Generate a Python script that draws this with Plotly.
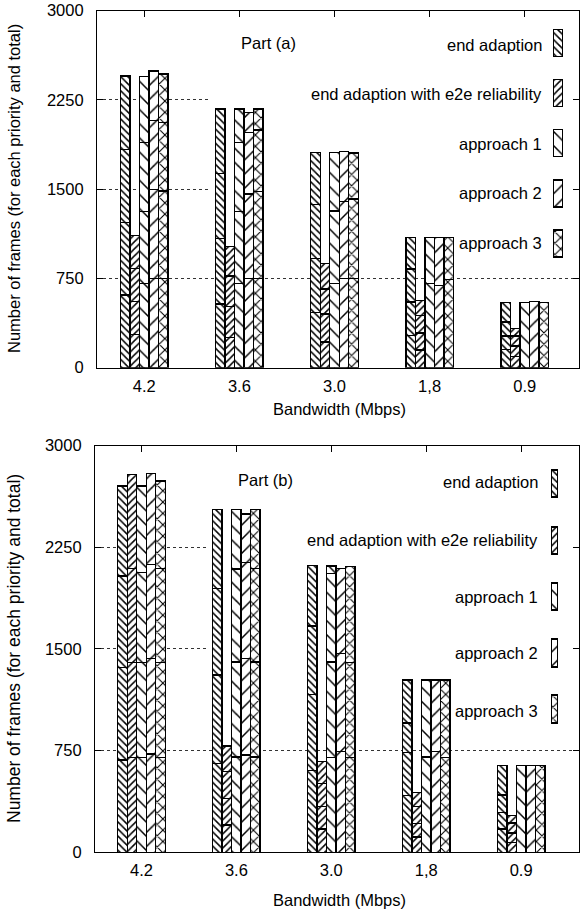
import plotly.graph_objects as go

# ---------------- data ----------------
bandwidths = ["4.2", "3.6", "3.0", "1,8", "0.9"]
methods = ["end adaption", "end adaption with e2e reliability",
           "approach 1", "approach 2", "approach 3"]
y_ticks = [0, 750, 1500, 2250, 3000]

# frames per priority (priority 1..4, stacked bottom -> top), one row per bandwidth
# Part (a)
a_end_adaption = [[610, 611, 613, 616], [535, 551, 546, 540], [462, 457, 453, 437],
                  [270, 282, 278, 265], [152, 114, 118, 165]]
a_e2e = [[280, 274, 281, 277], [255, 257, 258, 246], [216, 234, 210, 214],
         [149, 144, 143, 130], [92, 90, 84, 65]]
a_approach1 = [[709, 604, 576, 558], [709, 604, 576, 283], [709, 607, 491, 0],
               [709, 386, 0, 0], [549, 0, 0, 0]]
a_approach2 = [[750, 748, 576, 417], [750, 708, 518, 168], [750, 645, 420, 0],
               [692, 403, 0, 0], [556, 0, 0, 0]]
a_approach3 = [[750, 734, 576, 406], [750, 728, 518, 176], [750, 667, 387, 0],
               [740, 355, 0, 0], [549, 0, 0, 0]]
# Part (b)
b_end_adaption = [[681, 683, 674, 663], [656, 651, 640, 579], [602, 563, 503, 446],
                  [418, 319, 216, 318], [172, 120, 131, 218]]
b_e2e = [[700, 698, 696, 694], [201, 197, 196, 190], [173, 165, 168, 162],
         [112, 102, 126, 102], [71, 72, 73, 56]]
b_approach1 = [[700, 698, 667, 636], [703, 699, 686, 438], [700, 703, 654, 55],
               [703, 568, 0, 0], [641, 0, 0, 0]]
b_approach2 = [[725, 705, 694, 671], [719, 711, 709, 355], [742, 725, 625, 0],
               [745, 526, 0, 0], [641, 0, 0, 0]]
b_approach3 = [[700, 698, 696, 644], [703, 699, 692, 432], [700, 698, 708, 0],
               [700, 571, 0, 0], [641, 0, 0, 0]]

# ---------------- styles / layout constants ----------------
W, H = 580, 913
FONT = "Liberation Sans, Arial, Helvetica, sans-serif"
FS = 16.5
patterns = [
    dict(shape="\\", size=5, solidity=0.3),
    dict(shape="/", size=5, solidity=0.3),
    dict(shape="\\", size=10, solidity=0.15),
    dict(shape="/", size=10, solidity=0.15),
    dict(shape="x", size=8, solidity=0.25),
]
offsets = [-0.2, -0.1, 0.0, 0.1, 0.2]
BAR_W = 0.1
LW = 1.4

# pixel geometry of the two panels and their x ranges
panels = [
    dict(xa="x", ya="y", left=97, right=579, top=10.5, bottom=367.7, xr=[-0.497, 4.571],
         key_left=210, key_bottom=266,
         series=[a_end_adaption, a_e2e, a_approach1, a_approach2, a_approach3]),
    dict(xa="x2", ya="y2", left=95, right=579, top=445.5, bottom=852.3, xr=[-0.49, 4.61],
         key_left=207, key_bottom=735,
         series=[b_end_adaption, b_e2e, b_approach1, b_approach2, b_approach3]),
]


def px_x(p):
    return p / W


def px_y(p):
    return 1 - p / H


fig = go.Figure()

for pn in panels:
    for m, seg in enumerate(pn["series"]):
        for pr in range(4):
            xs = [k + offsets[m] for k in range(len(bandwidths))]
            ys = [row[pr] if row[pr] > 0 else None for row in seg]
            fig.add_trace(go.Bar(
                x=xs, y=ys, width=BAR_W, xaxis=pn["xa"], yaxis=pn["ya"],
                marker=dict(color="white", line=dict(color="black", width=LW),
                            pattern=dict(fgcolor="black", bgcolor="white", **patterns[m])),
                showlegend=False, hoverinfo="skip"))

# ---------------- legend keys (manual: text left, key right) ----------------
key_cols = [(553.3, 562.3), (551.3, 557.8)]
leg_top_rows = [(29.5, 56.5), (79.5, 106.5), (129.5, 156.5), (180, 207), (230, 257)]
leg_bot_rows = [(470, 497), (527, 554), (583, 610), (639, 667), (695, 723)]
key_y_spans = [(0, 400), (430, H)]  # vertical pixel band of each key column
PADX = 4
for (xa, ya, rows) in [("x3", "y3", leg_top_rows), ("x4", "y4", leg_bot_rows)]:
    for m in range(len(methods)):
        r0, r1 = rows[m]
        fig.add_trace(go.Bar(
            x=[0.5], y=[r1 - r0], base=[r0], width=1, xaxis=xa, yaxis=ya,
            marker=dict(color="white", line=dict(color="black", width=LW),
                        pattern=dict(fgcolor="black", bgcolor="white", **patterns[m])),
            showlegend=False, hoverinfo="skip"))

axis_common = dict(showline=True, linecolor="black", linewidth=1.2, mirror="ticks",
                   ticks="inside", ticklen=6, tickcolor="black", tickwidth=1,
                   automargin=False,
                   tickfont=dict(family=FONT, size=FS, color="black"))

layout_axes = {}
for i, pn in enumerate(panels):
    sx = "" if i == 0 else str(i + 1)
    layout_axes["xaxis" + sx] = dict(
        domain=[px_x(pn["left"]), px_x(pn["right"])], range=pn["xr"], anchor=pn["ya"],
        tickvals=list(range(len(bandwidths))), ticktext=bandwidths, showgrid=False,
        zeroline=False, layer="below traces", ticklabelstandoff=3, **axis_common)
    layout_axes["yaxis" + sx] = dict(
        domain=[px_y(pn["bottom"]), px_y(pn["top"])], range=[0, 3000], anchor=pn["xa"],
        tickvals=y_ticks, showgrid=True, gridcolor="#333333", griddash="dot", gridwidth=1,
        zeroline=False, ticklabelstandoff=9, **axis_common)

hidden = dict(visible=False, automargin=False)
for j, (c0, c1) in enumerate(key_cols):
    pad = PADX / (c1 - c0)
    t0, t1 = key_y_spans[j]
    n = str(j + 3)
    layout_axes["xaxis" + n] = dict(domain=[px_x(c0 - PADX), px_x(c1 + PADX)],
                                    range=[-pad, 1 + pad], anchor="y" + n, **hidden)
    layout_axes["yaxis" + n] = dict(domain=[px_y(t1), px_y(t0)], range=[t1, t0],
                                    anchor="x" + n, **hidden)

fig.update_layout(
    template="none",
    width=W, height=H, margin=dict(l=0, r=0, t=0, b=0, pad=0, autoexpand=False),
    paper_bgcolor="white", plot_bgcolor="rgba(0,0,0,0)", barmode="stack",
    showlegend=False,
    **layout_axes,
)

# opaque key boxes that hide the grid (between grid and bars)
for pn in panels:
    x0, x1 = pn["xr"]
    kx = x0 + (pn["key_left"] - pn["left"]) / (pn["right"] - pn["left"]) * (x1 - x0)
    ky = (pn["bottom"] - pn["key_bottom"]) / (pn["bottom"] - pn["top"]) * 3000
    fig.add_shape(type="rect", xref=pn["xa"], yref=pn["ya"], layer="between",
                  x0=kx, x1=x1, y0=ky, y1=3000,
                  fillcolor="white", line=dict(width=0))

txt = dict(family=FONT, size=FS, color="black")
leg_top_text_y = [45, 94.3, 144, 193.3, 243.3]
leg_bot_text_y = [481.7, 540, 596.7, 653.3, 711]
for m, name in enumerate(methods):
    fig.add_annotation(text=name, xref="paper", yref="paper", x=px_x(543.5), y=px_y(leg_top_text_y[m]),
                       xanchor="right", yanchor="middle", showarrow=False, font=txt)
    fig.add_annotation(text=name, xref="paper", yref="paper", x=px_x(539.5), y=px_y(leg_bot_text_y[m]),
                       xanchor="right", yanchor="middle", showarrow=False, font=txt)

fig.add_annotation(text="Part (a)", xref="paper", yref="paper", x=px_x(239), y=px_y(43),
                   xanchor="left", yanchor="middle", showarrow=False, font=txt)
fig.add_annotation(text="Part (b)", xref="paper", yref="paper", x=px_x(236), y=px_y(480),
                   xanchor="left", yanchor="middle", showarrow=False, font=txt)

for yc in [409, 900]:
    fig.add_annotation(text="Bandwidth (Mbps)", xref="paper", yref="paper", x=px_x(339), y=px_y(yc),
                       xanchor="center", yanchor="middle", showarrow=False, font=txt)
for yc, fs in [(189, 16.5), (649, 17.5)]:
    fig.add_annotation(text="Number of frames (for each priority and total)", xref="paper",
                       yref="paper", x=px_x(14), y=px_y(yc), textangle=-90,
                       xanchor="center", yanchor="middle", showarrow=False,
                       font=dict(family=FONT, size=fs, color="black"))

fig.write_html("out.html")
